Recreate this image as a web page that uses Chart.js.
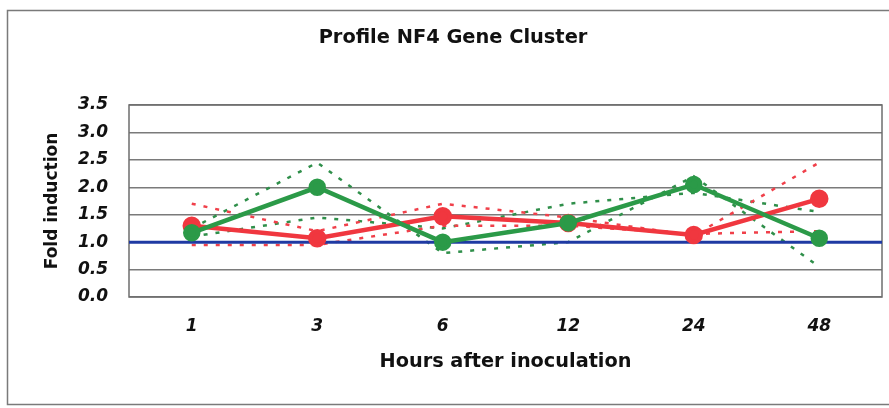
<!DOCTYPE html>
<html>
<head>
<meta charset="utf-8">
<script src="https://cdn.jsdelivr.net/npm/chart.js@4/dist/chart.umd.min.js"></script>
<style>
html,body{margin:0;padding:0;background:#fff;overflow:hidden;}
#wrap{width:889px;height:408px;position:relative;overflow:hidden;}
canvas{display:block;}
</style>
</head>
<body>
<div id="wrap"><canvas id="c" width="889" height="408"></canvas></div>
<script>
const categories = ["1", "3", "6", "12", "24", "48"];
const redMean   = [1.30, 1.07, 1.47, 1.35, 1.13, 1.79];
const greenMean = [1.17, 2.00, 1.00, 1.35, 2.05, 1.07];
const redRepA   = [1.70, 1.20, 1.70, 1.45, 1.12, 2.45];
const redRepB   = [0.95, 0.95, 1.30, 1.30, 1.15, 1.20];
const greenRepA = [1.25, 2.45, 0.80, 1.00, 2.20, 0.55];
const greenRepB = [1.10, 1.45, 1.25, 1.70, 1.90, 1.55];
const baselineValue = 1.0;
const yTicks = [0, 0.5, 1.0, 1.5, 2.0, 2.5, 3.0, 3.5];

const toXY = arr => arr.map((v, i) => ({x: i, y: v}));
const FONT = "'DejaVu Sans', 'Liberation Sans', Arial, sans-serif";

const frame = {
  id: 'frame',
  beforeDraw(chart) {
    const ctx = chart.ctx;
    ctx.save();
    ctx.fillStyle = '#fff';
    ctx.fillRect(0, 0, chart.width, chart.height);
    ctx.strokeStyle = '#7a7a7a';
    ctx.lineWidth = 1.5;
    ctx.strokeRect(7.5, 10.5, 900, 394);
    ctx.restore();
  }
};
const areaBorder = {
  id: 'areaBorder',
  beforeDatasetsDraw(chart) {
    const a = chart.chartArea, ctx = chart.ctx;
    ctx.save();
    ctx.strokeStyle = '#6e6e6e';
    ctx.lineWidth = 1.5;
    ctx.strokeRect(a.left, a.top, a.right - a.left, a.bottom - a.top);
    ctx.restore();
  }
};

const dotted = (data, color) => ({
  data: toXY(data), borderColor: color, borderWidth: 2.5, borderDash: [4, 8],
  pointRadius: 0, fill: false, tension: 0, order: 5
});

new Chart(document.getElementById('c'), {
  type: 'line',
  data: {
    datasets: [
      dotted(redRepA, '#f0404a'),
      dotted(redRepB, '#f0404a'),
      dotted(greenRepA, '#2f8f4a'),
      dotted(greenRepB, '#2f8f4a'),
      {
        data: [{x: -0.5, y: baselineValue}, {x: categories.length - 0.5, y: baselineValue}],
        borderColor: '#1f3aa3', borderWidth: 3, pointRadius: 0, order: 3
      },
      {
        data: toXY(redMean), borderColor: '#f0373f', backgroundColor: '#f0373f',
        borderWidth: 4.5, pointRadius: 7, pointHoverRadius: 7, order: 2
      },
      {
        data: toXY(greenMean), borderColor: '#2b9a48', backgroundColor: '#2b9a48',
        borderWidth: 4.5, pointRadius: 6.5, pointHoverRadius: 6.5, order: 1
      }
    ]
  },
  options: {
    responsive: false,
    animation: false,
    events: [],
    layout: {autoPadding: false, padding: {left: 24, right: 7, top: 0, bottom: 0}},
    plugins: {
      legend: {display: false},
      tooltip: {enabled: false},
      title: {
        display: true, text: 'Profile NF4 Gene Cluster', color: '#111',
        font: {family: FONT, size: 19.4, weight: 'bold', lineHeight: 1.2},
        padding: {top: 26.5, bottom: 55.2}
      }
    },
    scales: {
      x: {
        type: 'linear', min: -0.5, max: categories.length - 0.5,
        afterBuildTicks: s => { s.ticks = categories.map((_, i) => ({value: i})); },
        afterFit: s => { s.height = 111; s.paddingLeft = 0; s.paddingRight = 0; },
        grid: {display: false, drawTicks: false},
        border: {display: false},
        ticks: {
          callback: v => categories[v],
          color: '#111', padding: 19,
          font: {family: FONT, size: 17, weight: 'bold', style: 'italic'},
          maxRotation: 0
        },
        title: {
          display: true, text: 'Hours after inoculation', color: '#111',
          font: {family: FONT, size: 19.3, weight: 'bold'},
          padding: {top: 0, bottom: 34}
        }
      },
      y: {
        min: 0, max: 3.5,
        afterBuildTicks: s => { s.ticks = yTicks.map(v => ({value: v})); },
        afterFit: s => { s.width = 105; },
        grid: {color: '#7a7a7a', lineWidth: 1.5, drawTicks: false},
        border: {display: false},
        ticks: {
          callback: v => Number(v).toFixed(1),
          color: '#111', padding: 21,
          font: {family: FONT, size: 17, weight: 'bold', style: 'italic'}
        },
        title: {
          display: true, text: 'Fold induction', color: '#111',
          font: {family: FONT, size: 17, weight: 'bold'},
          padding: {top: 18, bottom: 0}
        }
      }
    }
  },
  plugins: [frame, areaBorder]
});
</script>
</body>
</html>
